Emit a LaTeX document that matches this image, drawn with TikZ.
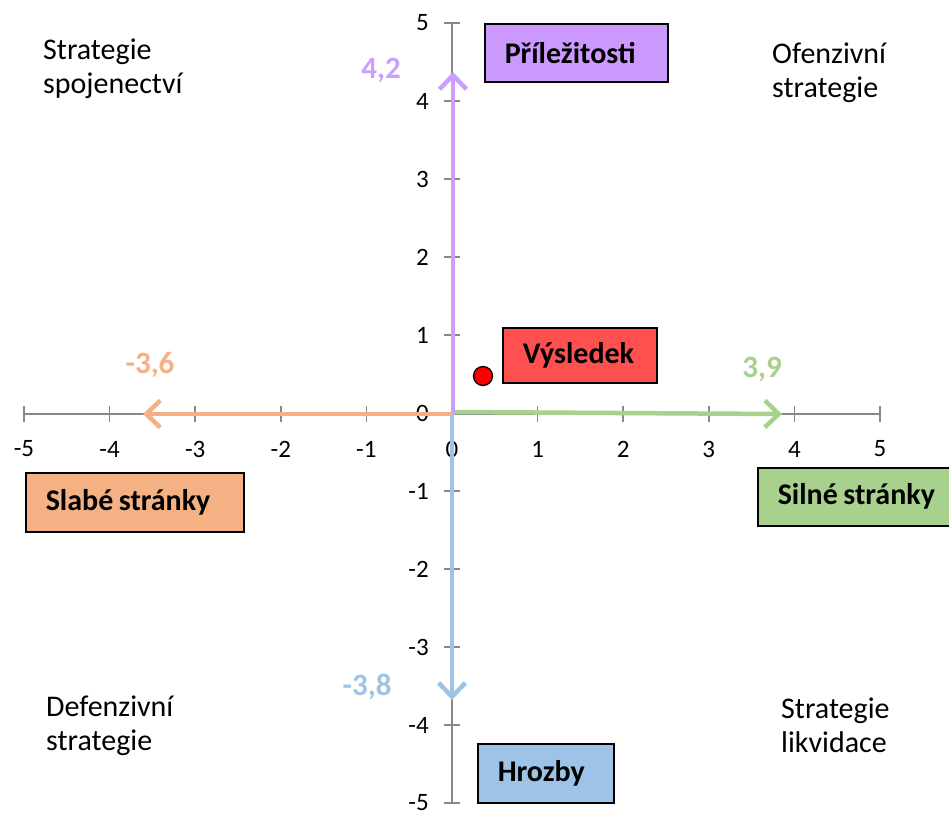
\documentclass[tikz,border=0pt]{standalone}
\usepackage{fontspec}
\setmainfont{Carlito}
\usetikzlibrary{arrows.meta}
\definecolor{purpbox}{HTML}{CC99FF}
\definecolor{purpline}{HTML}{CC9EFF}
\definecolor{orng}{HTML}{F4B183}
\definecolor{grn}{HTML}{A9D18E}
\definecolor{blu}{HTML}{9DC3E6}
\definecolor{redbox}{HTML}{FF5050}
\definecolor{axgray}{HTML}{888888}
\newcommand{\wsp}{\hspace{5.5pt}}
\tikzset{
  axis/.style={draw=axgray, line width=1.6pt},
  ticklbl/.style={font=\fontsize{25}{28}\selectfont, inner sep=0pt},
  vec/.style={line width=4.5pt, -{Straight Barb[length=14pt,width=27pt]}},
  vallbl/.style={font=\bfseries\fontsize{31}{34}\selectfont, inner sep=0pt},
  labbox/.style={draw=black, line width=1.5pt, anchor=north west, align=left,
    inner xsep=20pt, inner ysep=0pt, font=\bfseries\fontsize{30}{34}\selectfont},
  quad/.style={font=\fontsize{30}{34}\selectfont, inner sep=0pt, anchor=base west, align=left}
}
\begin{document}
\begin{tikzpicture}[x=1pt,y=-1pt]
\useasboundingbox (0,0) rectangle (949,815);
\fill[white] (0,0) rectangle (949,815);
% axes
\draw[axis] (24,414) -- (880,414);
\draw[axis] (452,23) -- (452,803);
\foreach \i in {-5,...,5} {
  \draw[axis] ({452+85.6*\i},406) -- ({452+85.6*\i},422);
  \node[ticklbl] (xl\i) at ({452+85.6*\i},449) {\i};
  \draw[axis] (444,{413-78*\i}) -- (460,{413-78*\i});
  \node[ticklbl, anchor=east] (yl\i) at (429,{413-78*\i}) {\i};
}
% vectors
\coordinate (O) at (453,413);
\coordinate (Ptip) at (453,72);
\coordinate (Gtip) at (782,414);
\coordinate (Otip) at (143,414);
\coordinate (Btip) at (452,700);
\draw[vec, draw=blu] (452,413) -- (Btip);
\draw[vec, draw=orng] (452,414) -- (Otip);
\draw[vec, draw=grn] (454,412) -- (Gtip);
\draw[vec, draw=purpline] (O) -- (Ptip);
% value labels
\node[vallbl, text=purpline] (v1) at (381,70) {4,2};
\node[vallbl, text=orng] (v2) at (150,365) {-3,6};
\node[vallbl, text=grn] (v3) at (762,369) {3,9};
\node[vallbl, text=blu] (v4) at (367,687) {-3,8};
% boxes
\node[labbox, fill=purpbox, minimum width=183pt, minimum height=58pt, text width=143pt] (P) at (484,23) {\mbox{Příležitosti}};
\node[labbox, fill=redbox, minimum width=154pt, minimum height=55pt, text width=114pt] (V) at (502,327) {\mbox{Výsledek}};
\node[labbox, fill=orng, minimum width=218pt, minimum height=59pt, text width=178pt] (S) at (25,472) {\mbox{Slabé\wsp stránky}};
\node[labbox, fill=grn, minimum width=200pt, minimum height=58pt, text width=160pt] (G) at (757,467) {\mbox{Silné\wsp stránky}};
\node[labbox, fill=blu, minimum width=136pt, minimum height=59pt, text width=96pt] (H) at (477,743) {\mbox{Hrozby}};
% result dot
\node[draw=black, fill=red, line width=1.3pt, circle, minimum size=19pt, inner sep=0pt] (dot) at (483,376) {};
% quadrant texts
\node[quad] (q1) at (43,93) {Strategie\\spojenectví};
\node[quad] (q2) at (772,97) {Ofenzivní\\strategie};
\node[quad] (q3) at (46,750) {Defenzivní\\strategie};
\node[quad] (q4) at (781,752) {Strategie\\likvidace};
\end{tikzpicture}
\end{document}
